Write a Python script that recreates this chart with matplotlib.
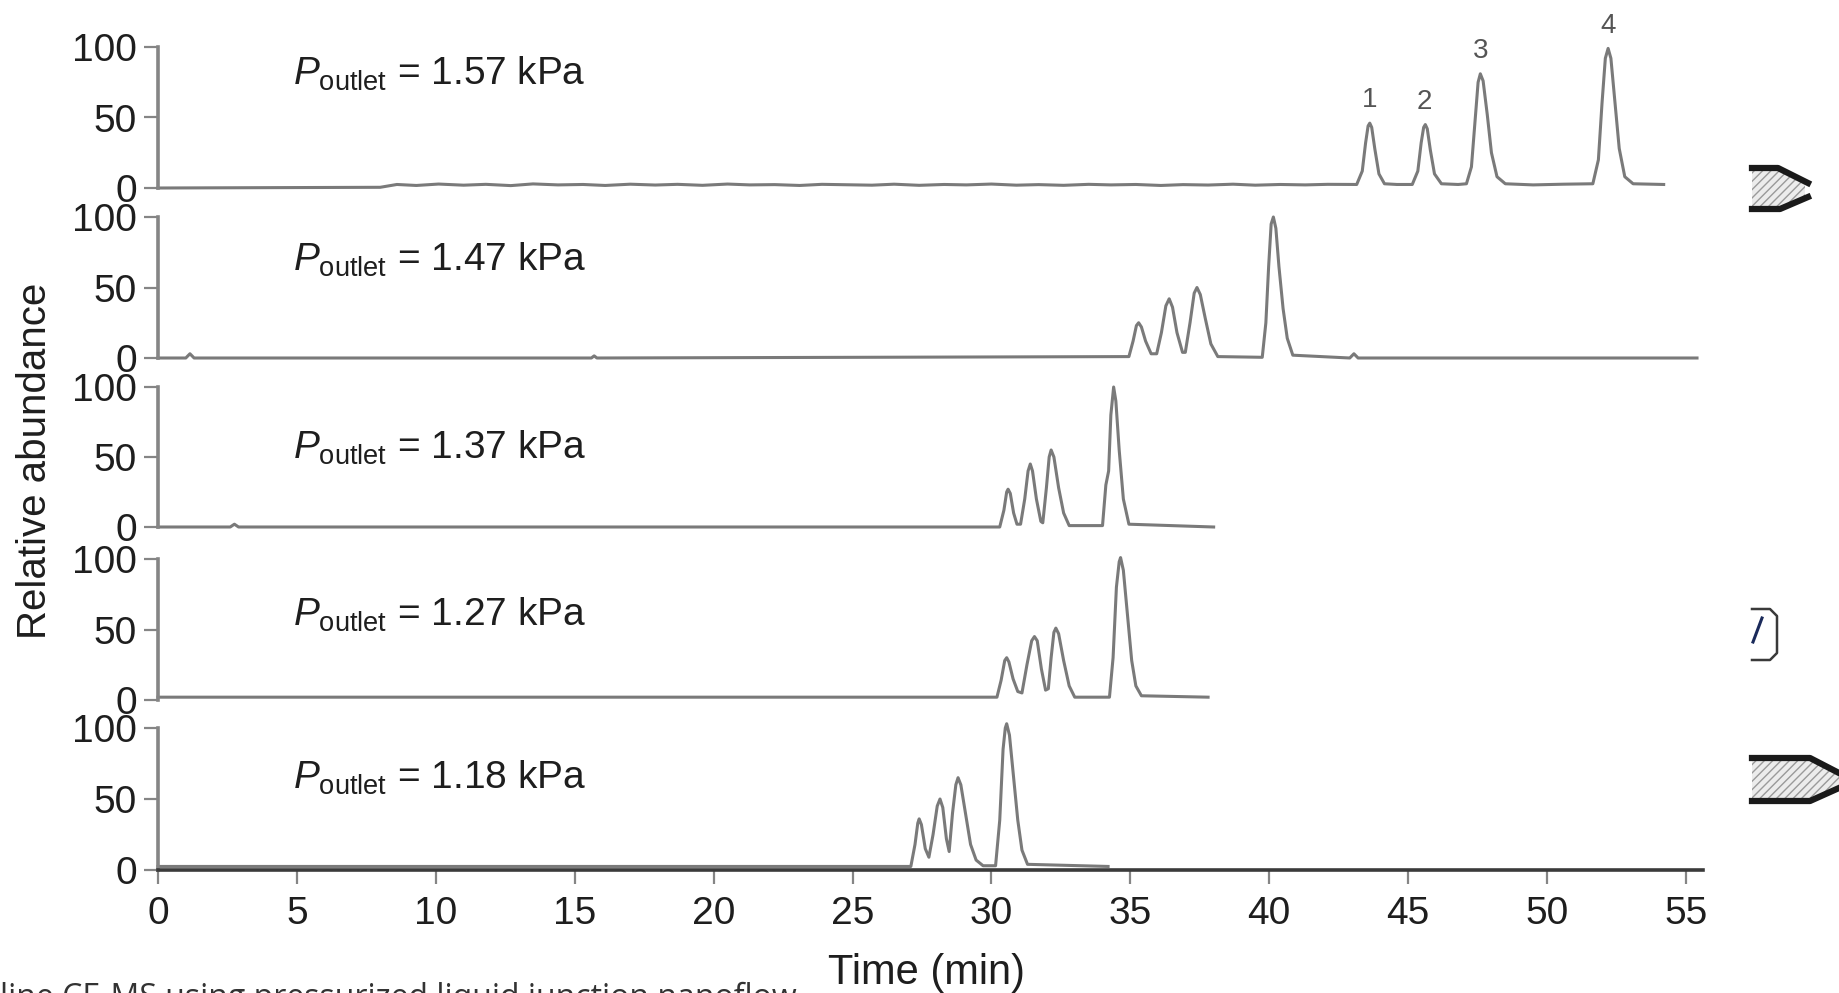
#!/usr/bin/env python3
"""Stacked CE-MS traces at five outlet pressures."""
import matplotlib
matplotlib.use("Agg")
import matplotlib.pyplot as plt
from matplotlib import font_manager
from matplotlib.patches import Polygon
from matplotlib.lines import Line2D

# ---- data (time in min, relative abundance in %) ----
pressures = ["1.57", "1.47", "1.37", "1.27", "1.18"]

t_157 = [0, 8.0, 8.6, 9.3, 10.1, 11.0, 11.8, 12.7, 13.5, 14.4, 15.3, 16.1,
         17.0, 17.9, 18.7, 19.6, 20.5, 21.3, 22.2, 23.1, 23.9, 24.8, 25.7,
         26.5, 27.4, 28.3, 29.1, 30.0, 30.9, 31.7, 32.6, 33.5, 34.3, 35.2,
         36.1, 36.9, 37.8, 38.7, 39.5, 40.4, 41.3, 42.1,
         43.15, 43.35, 43.47, 43.56, 43.62, 43.69, 43.8, 43.95, 44.15, 44.6,
         45.15, 45.35, 45.47, 45.56, 45.62, 45.69, 45.8, 45.95, 46.2, 46.8,
         47.1, 47.28, 47.42, 47.52, 47.6, 47.7, 47.85, 48.0, 48.2, 48.5,
         49.5, 50.6, 51.65,
         51.85, 51.98, 52.1, 52.2, 52.3, 52.45, 52.6, 52.8, 53.1, 54.2]
a_157 = [0, 0.5, 2.5, 1.8, 2.8, 2.0, 2.6, 1.7, 2.9, 2.2, 2.5, 1.8,
         2.7, 2.1, 2.6, 1.9, 2.8, 2.2, 2.4, 1.8, 2.6, 2.3, 2.0,
         2.7, 1.9, 2.5, 2.2, 2.8, 2.0, 2.4, 1.9, 2.6, 2.2, 2.5,
         1.8, 2.4, 2.1, 2.7, 2.0, 2.5, 2.2, 2.6,
         2.5, 12, 32, 44, 46, 43, 28, 10, 3, 2.5,
         2.5, 12, 32, 43, 45, 42, 27, 10, 3, 2.5,
         3, 15, 50, 75, 81, 76, 52, 25, 8, 3,
         2.2, 2.7, 3,
         20, 60, 92, 99, 92, 60, 28, 8, 3, 2.5]

t_147 = [0, 1.0, 1.15, 1.3, 15.6, 15.7, 15.8, 34.95,
         35.1, 35.22, 35.3, 35.4, 35.55, 35.75,
         35.95, 36.12, 36.28, 36.4, 36.52, 36.68, 36.88,
         36.98, 37.15, 37.3, 37.4, 37.52, 37.7, 37.9, 38.15,
         39.75, 39.88, 39.98, 40.07, 40.15, 40.24, 40.35, 40.5, 40.65, 40.85,
         42.9, 43.05, 43.2, 55.4]
a_147 = [0, 0, 3, 0, 0, 1.5, 0, 1,
         12, 23, 25, 22, 12, 3,
         3, 18, 37, 42, 36, 18, 4,
         4, 25, 46, 50, 45, 28, 10, 1,
         0.5, 25, 65, 95, 100, 92, 65, 35, 14, 2,
         0, 3, 0, 0]

t_137 = [0, 2.6, 2.75, 2.9, 30.3, 30.45, 30.55, 30.6, 30.68, 30.8, 30.92,
         31.05, 31.2, 31.32, 31.4, 31.48, 31.62, 31.78,
         31.85, 31.98, 32.08, 32.15, 32.25, 32.42, 32.6, 32.8,
         34.0, 34.12, 34.22, 34.3, 34.4, 34.48, 34.6, 34.75, 34.95, 38.0]
a_137 = [0, 0, 2, 0, 0, 12, 25, 27, 24, 10, 2,
         2, 20, 40, 45, 40, 20, 4,
         3, 28, 50, 55, 50, 28, 10, 1,
         1, 30, 40, 80, 100, 90, 55, 20, 2, 0]

t_127 = [0, 30.2, 30.35, 30.48, 30.55, 30.63, 30.78, 30.95, 31.1,
         31.28, 31.45, 31.55, 31.65, 31.8, 31.95,
         32.05, 32.15, 32.25, 32.32, 32.42, 32.6, 32.8, 33.0,
         34.25, 34.38, 34.5, 34.6, 34.65, 34.75, 34.9, 35.05, 35.2, 35.4, 37.8]
a_127 = [2, 2, 14, 28, 30, 27, 15, 6, 5,
         25, 42, 45, 42, 22, 7,
         8, 30, 48, 51, 47, 28, 10, 2,
         2, 30, 80, 98, 101, 92, 60, 28, 10, 3, 2]

t_118 = [0, 27.1, 27.25, 27.35, 27.4, 27.48, 27.62, 27.75,
         27.9, 28.05, 28.15, 28.25, 28.38, 28.48,
         28.6, 28.72, 28.8, 28.9, 29.05, 29.25, 29.45, 29.7,
         30.15, 30.3, 30.42, 30.5, 30.55, 30.65, 30.8, 30.95, 31.1, 31.3, 34.2]
a_118 = [2.5, 2.5, 18, 33, 36, 32, 15, 9,
         25, 45, 50, 44, 22, 13,
         40, 60, 65, 60, 42, 18, 7, 3,
         3, 35, 85, 100, 103, 95, 65, 35, 14, 4, 2.5]

traces_t = [t_157, t_147, t_137, t_127, t_118]
traces_a = [a_157, a_147, a_137, a_127, a_118]

peak_names = ["1", "2", "3", "4"]
peak_times = [43.6, 45.6, 47.6, 52.2]
peak_heights = [46, 45, 81, 99]

x_ticks = [0, 5, 10, 15, 20, 25, 30, 35, 40, 45, 50, 55]
y_ticks = [0, 50, 100]

caption = "line CE-MS using pressurized liquid junction nanoflow"

# ---- layout (pixels of the 1839x993 reference) ----
W, H = 1839, 993
X0_PX, PX_PER_MIN = 158, 27.78
XMAX = 55.6
panel_px = [(47, 188), (217, 358), (387, 527), (559, 700), (728, 870)]
label_y = [73, 62, 49, 53, 57]
YLO, YHI = -6, 120

names = {f.name for f in font_manager.fontManager.ttflist}
FONT = "Liberation Sans Narrow" if "Liberation Sans Narrow" in names else "Liberation Sans"
plt.rcParams["font.family"] = [FONT, "DejaVu Sans"]
plt.rcParams["mathtext.fontset"] = "custom"
plt.rcParams["mathtext.rm"] = FONT
plt.rcParams["mathtext.it"] = FONT + ":italic"

TRACE = "#7a7a7a"
SPINE = "#858585"
TEXT = "#1e1e1e"


def px_rect(left, top, right, bottom):
    return [left / W, 1 - bottom / H, (right - left) / W, (bottom - top) / H]


def fpt(x, y):
    return (x / W, 1 - y / H)


fig = plt.figure(figsize=(W / 100, H / 100), dpi=100)

for i, (y100, y0) in enumerate(panel_px):
    ppu = (y0 - y100) / 100
    top = y100 - (YHI - 100) * ppu
    bottom = y0 - YLO * ppu
    right = X0_PX + XMAX * PX_PER_MIN
    ax = fig.add_axes(px_rect(X0_PX, top, right, bottom))
    ax.patch.set_alpha(0)
    ax.set_xlim(0, XMAX)
    ax.set_ylim(YLO, YHI)

    ax.plot(traces_t[i], traces_a[i], color=TRACE, lw=2.2,
            solid_joinstyle="round", clip_on=False)

    for s in ("top", "right"):
        ax.spines[s].set_visible(False)
    ax.spines["left"].set_bounds(0, 100)
    ax.spines["left"].set_color(SPINE)
    ax.spines["left"].set_linewidth(2.6)
    ax.set_yticks(y_ticks)
    ax.tick_params(axis="y", direction="out", length=10, width=1.6,
                   color=SPINE, labelsize=28, labelcolor=TEXT, pad=5)

    last = i == len(panel_px) - 1
    if last:
        ax.spines["bottom"].set_color("#3a3a3a")
        ax.spines["bottom"].set_linewidth(2.6)
        ax.spines["bottom"].set_position(("data", 0))
        ax.spines["bottom"].set_bounds(0, XMAX)
        ax.set_xticks(x_ticks)
        ax.tick_params(axis="x", direction="out", length=10, width=1.6,
                       color=SPINE, labelsize=28, labelcolor=TEXT, pad=9)
    else:
        ax.spines["bottom"].set_visible(False)
        ax.tick_params(axis="x", bottom=False, labelbottom=False)

    ax.text(4.85, label_y[i], r"$P_{\mathrm{outlet}}$" + f" = {pressures[i]} kPa",
            fontsize=28, color=TEXT, ha="left", va="baseline")

    if i == 0:
        for name, t, h in zip(peak_names, peak_times, peak_heights):
            ax.text(t, h + 7, name, fontsize=20, color="#555555",
                    ha="center", va="bottom")

fig.text(35 / W, 1 - 461 / H, "Relative abundance", rotation=90,
         fontsize=29, color=TEXT, ha="center", va="center")
fig.text(927 / W, 1 - 953 / H, "Time (min)", fontsize=30, color=TEXT,
         ha="center", va="top")
fig.text(0.0, 1 - 982 / H, caption, family=["Open Sans", "DejaVu Sans"],
         fontsize=23, color="#333333", ha="left", va="top")

# cropped pieces of the neighbouring figure on the right edge
hatch_kw = dict(closed=True, facecolor="#ececec", edgecolor="#9a9a9a",
                hatch="////", lw=0, transform=fig.transFigure)
fig.patches.append(Polygon([fpt(1752, 170), fpt(1778, 170), fpt(1805, 184),
                            fpt(1805, 197), fpt(1780, 207), fpt(1752, 207)],
                           **hatch_kw))
fig.patches.append(Polygon([fpt(1752, 760), fpt(1810, 760), fpt(1839, 776),
                            fpt(1839, 786), fpt(1810, 799), fpt(1752, 799)],
                           **hatch_kw))
edges = [
    [(1752, 168), (1778, 168), (1808, 183)],
    [(1752, 209), (1780, 209), (1808, 197)],
    [(1752, 758), (1810, 758), (1839, 773)],
    [(1752, 801), (1810, 801), (1839, 788)],
]
for pts in edges:
    xs, ys = zip(*[fpt(x, y) for x, y in pts])
    fig.lines.append(Line2D(xs, ys, color="#1a1a1a", lw=4.5,
                            transform=fig.transFigure))
bx, by = zip(*[fpt(x, y) for x, y in
               [(1752, 609), (1770, 609), (1777, 616), (1777, 653),
                (1770, 660), (1752, 660)]])
fig.lines.append(Line2D(bx, by, color="#3a3a3a", lw=1.8,
                        transform=fig.transFigure))
sx, sy = zip(*[fpt(1753, 642), fpt(1762, 618)])
fig.lines.append(Line2D(sx, sy, color="#1a2a5a", lw=2.2,
                        transform=fig.transFigure))

fig.savefig("out.png", dpi=100)
